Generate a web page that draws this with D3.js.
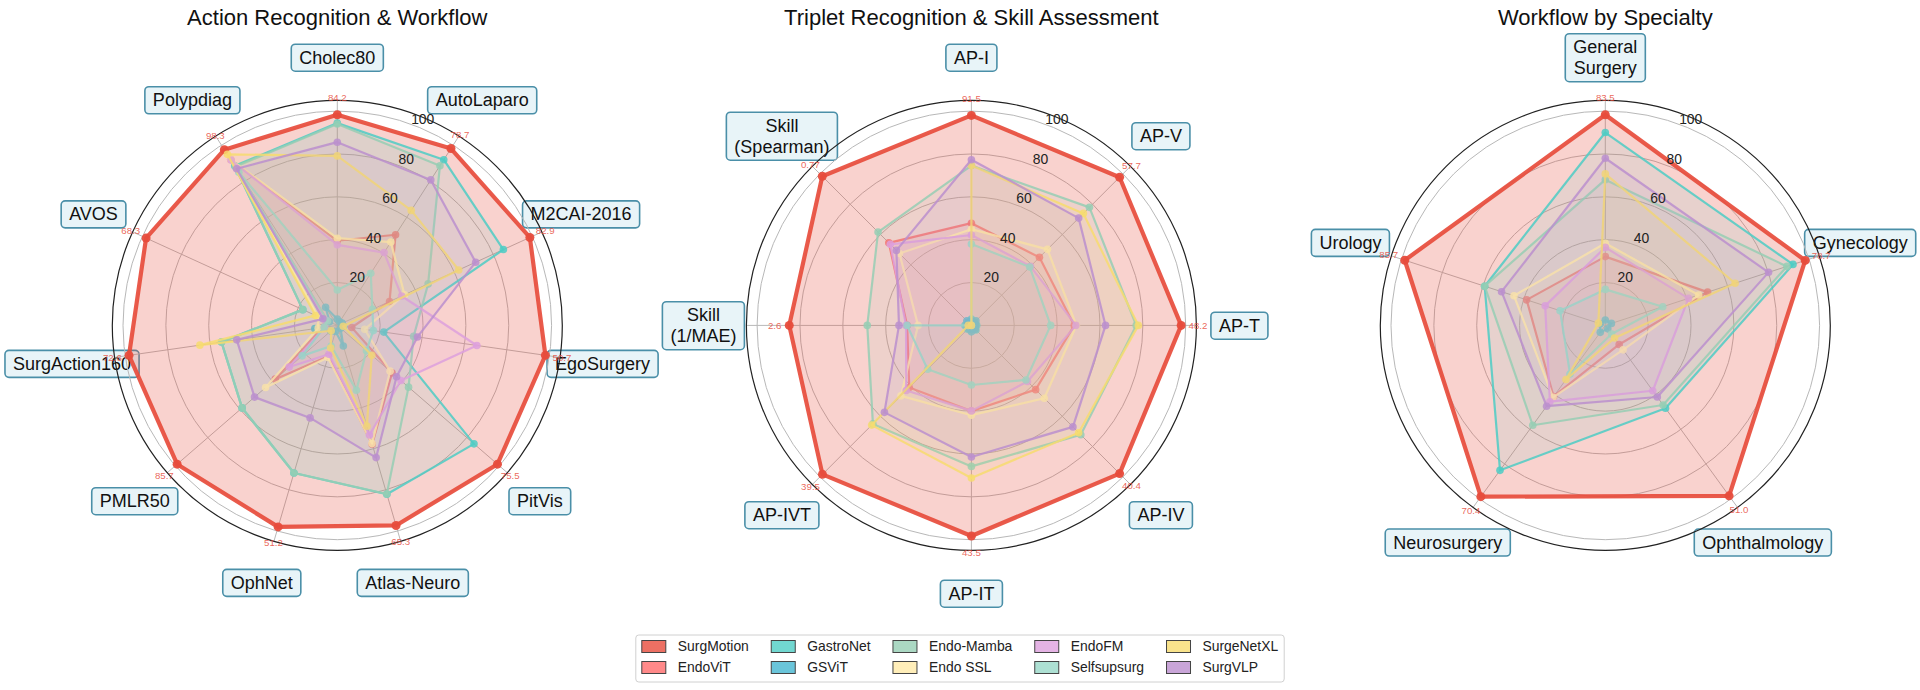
<!DOCTYPE html>
<html><head><meta charset="utf-8">
<script src="https://cdn.jsdelivr.net/npm/d3@7"></script>
<style>
body{margin:0;background:#fff;}
svg{display:block;font-family:"Liberation Sans",Arial,Helvetica,sans-serif;}
</style></head><body>
<svg id="chart" width="1920" height="690"></svg>
<script>
// ---------------- DATA ----------------
const models = ["SurgMotion","EndoViT","GastroNet","GSViT","Endo-Mamba","Endo SSL","EndoFM","Selfsupsurg","SurgeNetXL","SurgVLP"];
const modelColors = ["#E74C3C","#FF6B6B","#4ECDC4","#45B7D1","#96CEB4","#FFEAA7","#DDA0DD","#98D8C8","#F7DC6F","#BB8FCE"];
const chartTitles = ["Action Recognition & Workflow","Triplet Recognition & Skill Assessment","Workflow by Specialty"];
const radialTicks = [20, 40, 60, 80, 100];

const actionAxes = ["Cholec80","AutoLaparo","M2CAI-2016","EgoSurgery","PitVis","Atlas-Neuro","OphNet","PMLR50","SurgAction160","AVOS","Polypdiag"];
const actionBest = ["84.2","78.7","82.9","50.7","75.5","65.3","51.2","85.7","72.6","68.3","98.3"];
// normalized scores, one row per model (same order as models)
const actionScores = [
  [98.3, 98.1, 98.8, 98.1, 98.9, 97.3, 98.0, 98.9, 98.2, 98.1, 97.5], // SurgMotion
  [39.5, 50.3, 26.8,  6.8, 33.8, 57.8, 15.0, 38.3,  7.0,  5.0, 92.0], // EndoViT
  [94.4, 91.9, 85.2, 21.9, 84.4, 82.1, 71.8, 58.8, 54.6, 17.7, 88.5], // GastroNet
  [ 3.0,  2.0,  2.5,  3.0,  2.0, 10.0,  3.0,  4.0, 10.6,  4.0, 10.1], // GSViT
  [94.0, 88.6, 46.6, 36.0, 44.0, 82.0, 71.8, 58.8, 54.6, 17.7, 88.0], // Endo-Mamba
  [40.7, 46.2, 34.5, 12.9, 32.6, 57.5, 15.6, 44.3,  9.0, 10.0, 92.0], // Endo SSL
  [37.6, 40.4, 33.0, 65.8, 39.3, 53.3, 14.0, 29.7,  6.0,  6.0, 91.7], // EndoFM
  [16.5, 28.9, 18.0, 17.0, 18.0, 31.6, 10.0, 21.7,  6.2,  5.0, 85.0], // Selfsupsurg
  [79.1, 63.8, 62.3,  2.8, 21.3, 49.0, 11.0,  3.8, 64.8, 11.2, 94.9], // SurgeNetXL
  [85.5, 80.7, 71.0, 37.8, 36.6, 64.3, 45.0, 51.1, 47.4,  7.4, 86.9]  // SurgVLP
];

const tripletAxes = ["AP-I","AP-V","AP-T","AP-IV","AP-IT","AP-IVT","Skill\n(1/MAE)","Skill\n(Spearman)"];
const tripletBest = ["91.5","57.7","48.2","40.4","43.5","39.5","2.6","0.77"];
const tripletScores = [
  [98.0, 97.8, 97.9, 97.8, 98.3, 98.3, 85.0, 98.4], // SurgMotion
  [47.7, 44.9, 48.0, 42.4, 40.0, 41.0, 30.0, 54.5], // EndoViT
  [ 3.0,  2.0,  2.5,  3.0,  2.0,  2.5,  3.0,  2.0], // GastroNet
  [ 2.0,  3.0,  2.0,  2.5,  3.0,  2.0,  2.0,  3.0], // GSViT
  [74.6, 77.9, 76.9, 72.2, 65.8, 65.0, 48.6, 61.6], // Endo-Mamba
  [44.9, 50.2, 49.0, 48.1, 41.9, 46.5, 24.9, 47.5], // Endo SSL
  [42.2, 39.0, 48.8, 37.0, 39.9, 43.0, 30.5, 53.5], // EndoFM
  [38.0, 38.5, 37.0, 36.0, 27.8, 28.9, 30.0,  0.0], // Selfsupsurg
  [74.6, 73.9, 77.9, 70.8, 71.2, 65.8,  1.5,  0.0], // SurgeNetXL
  [77.3, 70.8, 62.6, 67.0, 61.4, 57.4, 33.8, 49.5]  // SurgVLP
];

const specialtyAxes = ["General\nSurgery","Gynecology","Ophthalmology","Neurosurgery","Urology"];
const specialtyBest = ["83.5","78.7","51.0","70.4","85.7"];
const specialtyScores = [
  [98.3, 98.1, 98.3, 98.8, 98.4], // SurgMotion
  [32.1, 50.2, 11.0, 41.0, 38.6], // EndoViT
  [90.0, 92.1, 47.8, 83.6, 59.2], // GastroNet
  [ 2.5,  3.0,  2.0,  4.0,  2.5], // GSViT
  [68.0, 89.1, 45.9, 57.6, 59.2], // Endo-Mamba
  [38.3, 45.8, 14.1, 41.5, 44.8], // Endo SSL
  [36.4, 40.8, 37.7, 44.0, 29.5], // EndoFM
  [16.8, 28.2,  5.0, 28.0, 22.2], // Selfsupsurg
  [70.7, 63.7,  7.3, 31.2,  3.4], // SurgeNetXL
  [78.0, 80.1, 41.3, 46.6, 50.9]  // SurgVLP
];

// ---------------- DRAWING ----------------
const svg = d3.select("#chart");
const RMAX = 105, RPX = 225, LABEL_V = 125.07;
const centers = [[337.3, 325.4], [971.4, 325.4], [1605.3, 325.4]];

function radar(k, axes, best, scores) {
  const [cx, cy] = centers[k];
  const n = axes.length;
  const r = d3.scaleLinear().domain([0, RMAX]).range([0, RPX]);
  const ang = d3.scaleLinear().domain([0, n]).range([0, 2 * Math.PI]);
  const px = (i, v) => r(v) * Math.sin(ang(i));
  const py = (i, v) => -r(v) * Math.cos(ang(i));

  svg.append("text").attr("x", cx).attr("y", 25).attr("text-anchor", "middle")
    .attr("font-size", 22).attr("fill", "#111").text(chartTitles[k]);

  const g = svg.append("g").attr("transform", `translate(${cx},${cy})`);

  // category label boxes
  const lab = g.append("g");
  axes.forEach((name, i) => {
    const lg = lab.append("g").attr("transform", `translate(${px(i, LABEL_V)},${py(i, LABEL_V)})`);
    const lines = name.split("\n");
    const t = lg.append("text").attr("text-anchor", "middle").attr("font-size", 18).attr("fill", "#111");
    lines.forEach((s, j) => t.append("tspan").attr("x", 0)
      .attr("y", (j - (lines.length - 1) / 2) * 21).attr("dy", "0.35em").text(s));
    const bb = t.node().getBBox();
    lg.insert("rect", "text").attr("x", bb.x - 8).attr("y", bb.y - 3.5)
      .attr("width", bb.width + 16).attr("height", bb.height + 7).attr("rx", 4)
      .attr("fill", "#e8f4f8").attr("stroke", "#4a8fa8").attr("stroke-width", 1.6);
  });

  // grid
  g.selectAll(".ring").data(radialTicks).join("circle")
    .attr("r", d => r(d)).attr("fill", "none").attr("stroke", "#b8b8b8").attr("stroke-width", 1);
  g.selectAll(".spoke").data(axes).join("line")
    .attr("x1", 0).attr("y1", 0).attr("x2", (d, i) => px(i, RMAX)).attr("y2", (d, i) => py(i, RMAX))
    .attr("stroke", "#b8b8b8").attr("stroke-width", 1);
  g.append("circle").attr("r", r(RMAX)).attr("fill", "none").attr("stroke", "#222").attr("stroke-width", 1.2);

  // series
  const line = d3.lineRadial().angle((d, i) => ang(i)).radius(d => r(d)).curve(d3.curveLinearClosed);
  scores.forEach((vals, m) => {
    const main = m === 0;
    const sg = g.append("g");
    sg.append("path").attr("d", line(vals))
      .attr("fill", modelColors[m]).attr("fill-opacity", main ? 0.25 : 0.1)
      .attr("stroke", modelColors[m]).attr("stroke-opacity", main ? 0.92 : 0.85)
      .attr("stroke-width", main ? 4.2 : 2.2).attr("stroke-linejoin", "round");
    sg.selectAll("circle").data(vals).join("circle")
      .attr("cx", (d, i) => px(i, d)).attr("cy", (d, i) => py(i, d))
      .attr("r", main ? 4.5 : 3.8).attr("fill", modelColors[m]).attr("fill-opacity", main ? 0.95 : 0.85);
  });

  // radial tick labels
  const la = 22.5 * Math.PI / 180;
  g.selectAll(".rt").data(radialTicks).join("text")
    .attr("x", d => (r(d) + 9) * Math.sin(la)).attr("y", d => -(r(d) + 9) * Math.cos(la))
    .attr("text-anchor", "middle").attr("dy", "0.35em").attr("font-size", 13.9).attr("fill", "#222")
    .text(d => d);

  // best raw values of SurgMotion
  g.selectAll(".bv").data(best).join("text")
    .attr("x", (d, i) => px(i, scores[0][i] * 1.08)).attr("y", (d, i) => py(i, scores[0][i] * 1.08))
    .attr("text-anchor", "middle").attr("dy", "0.35em").attr("font-size", 9.7)
    .attr("fill", "#E74C3C").attr("fill-opacity", 0.85).text(d => d);
}

radar(0, actionAxes, actionBest, actionScores);
radar(1, tripletAxes, tripletBest, tripletScores);
radar(2, specialtyAxes, specialtyBest, specialtyScores);

// ---------------- LEGEND ----------------
const leg = svg.append("g");
const frame = leg.append("rect");
const items = leg.append("g");
const ncol = 5, rowY = [646.5, 667.5];
let x = 0;
const colW = [];
for (let c = 0; c < ncol; c++) {
  let maxW = 0;
  for (let rI = 0; rI < 2; rI++) {
    const m = c * 2 + rI;
    items.append("rect").attr("x", x).attr("y", rowY[rI] - 6).attr("width", 24).attr("height", 12)
      .attr("fill", modelColors[m]).attr("fill-opacity", 0.8).attr("stroke", "#444").attr("stroke-width", 1);
    const t = items.append("text").attr("x", x + 36).attr("y", rowY[rI]).attr("dy", "0.35em")
      .attr("font-size", 13.9).attr("fill", "#222").text(models[m]);
    maxW = Math.max(maxW, t.node().getComputedTextLength());
  }
  x += 36 + maxW + 22.4;
}
const totalW = x - 22.4;
const lx = 960 - totalW / 2;
items.attr("transform", `translate(${lx},0)`);
frame.attr("x", lx - 6).attr("y", 635).attr("width", totalW + 12).attr("height", 47).attr("rx", 3)
  .attr("fill", "#fff").attr("fill-opacity", 0.8).attr("stroke", "#d0d0d0").attr("stroke-width", 1);
</script>
</body></html>
